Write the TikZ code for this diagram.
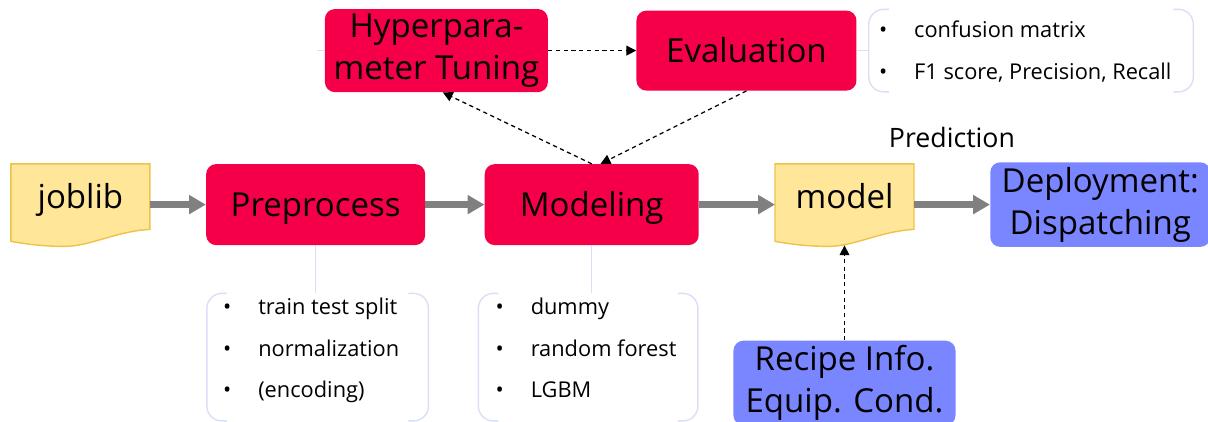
\documentclass[tikz,border=0pt]{standalone}
\usepackage{fontspec}
\setmainfont{Open Sans}
\usepackage{tikz}
\usetikzlibrary{arrows.meta,shapes,positioning,backgrounds}
\usepackage{xcolor}
\definecolor{mlred}{RGB}{245,0,72}
\definecolor{mlyellow}{RGB}{255,230,153}
\definecolor{mlgold}{RGB}{235,196,72}
\definecolor{mlblue}{RGB}{122,134,255}
\definecolor{mllavender}{RGB}{218,223,247}
\definecolor{mlgray}{RGB}{128,128,128}
\tikzstyle{flow} = [line width=4.5pt,-{Triangle[length=12pt,width=13pt]},color=mlgray]
\tikzstyle{dasharrow} = [line width=0.9pt,dash pattern=on 3pt off 2.5pt,-{Triangle[length=7pt,width=7pt]}]
\tikzstyle{linkline} = [line width=1pt,color=mllavender]
\tikzstyle{bracket} = [line width=1pt,color=mllavender,rounded corners=0.375cm]
\tikzstyle{bigtext} = [font=\fontsize{23.5}{30}\selectfont]
\tikzstyle{stage} = [rectangle, rounded corners=0.25cm, fill=mlred, minimum height=2.025cm, text centered, bigtext]
\tikzstyle{oneline} = [text height=16.8pt, text depth=0pt]
\tikzstyle{inputbox} = [stage, fill=mlblue]
\tikzstyle{docnode} = [rectangle, minimum width=3.46cm, minimum height=2.025cm, bigtext, text height=17.9pt, text depth=12.9pt]
\tikzstyle{docfill} = [fill=mlyellow, draw=mlgold, line width=1pt]
\tikzstyle{listbox} = [rectangle, minimum height=3.175cm]
\tikzstyle{items} = [inner sep=0pt, align=left, font=\fontsize{15.5}{29.5}\selectfont]

\newcommand{\bul}{\makebox[25pt][l]{\textbullet}}
% wavy "document" shape behind a node
\newcommand{\docshape}[1]{%
  \begin{pgfonlayer}{background}
  \path[docfill] (#1.north west) -- (#1.north east) -- ([yshift=0.4cm]#1.south east)
    .. controls ([shift={(0.875,0.35)}]#1.south) and ([shift={(0.25,-0.025)}]#1.south) .. ([shift={(-0.4,-0.025)}]#1.south)
    .. controls ([shift={(-1.0,-0.025)}]#1.south) and ([shift={(-1.45,0.05)}]#1.south) .. ([yshift=0.1cm]#1.south west) -- cycle;
  \end{pgfonlayer}}
% open brackets round a list
\newcommand{\bracketbox}[1]{%
  \draw[bracket] ([xshift=0.5cm]#1.north west) -- (#1.north west) -- (#1.south west) -- ([xshift=0.5cm]#1.south west);
  \draw[bracket] ([xshift=-0.5cm]#1.north east) -- (#1.north east) -- (#1.south east) -- ([xshift=-0.5cm]#1.south east);}

\begin{document}
\begin{tikzpicture}
\useasboundingbox (0,0) rectangle (30.2,10.525);
% main flow
\node (joblib) [docnode] at (2.01,5.41) {joblib};
\node (preprocess) [stage, oneline, minimum width=5.475cm, right=1.4cm of joblib] {Preprocess};
\node (modeling) [stage, oneline, minimum width=5.35cm, right=1.475cm of preprocess] {Modeling};
\node (model) [docnode, right=1.9cm of modeling] {model};
\node (deploy) [inputbox, minimum width=5.5cm, minimum height=2.1cm, align=center, right=1.9cm of model] {Deployment:\\Dispatching};
\docshape{joblib}
\docshape{model}

% tuning loop
\node (hyper) [stage, minimum width=5.575cm, align=center] at (10.91,9.26) {Hyperpara-\\meter Tuning};
\node (eval) [stage, oneline, minimum width=5.5cm, minimum height=2cm, right=2.2cm of hyper] {Evaluation};
\coordinate (hyperstub) at ([xshift=-0.2cm]hyper.west);

% side input
\node (recipe) [inputbox, minimum width=5.55cm, align=center, below=2.375cm of model] {Recipe Info.\\Equip. Cond.};

% lists
\node (ppbox) [listbox, minimum width=5.525cm, below=1.2cm of preprocess, xshift=0.05cm] {};
\node (mdbox) [listbox, minimum width=5.475cm, below=1.2cm of modeling, xshift=-0.09cm] {};
\node (evbox) [listbox, minimum width=8.1cm, minimum height=2.05cm, right=0.3cm of eval] {};
\bracketbox{ppbox}
\bracketbox{mdbox}
\bracketbox{evbox}
\node (ppitems) [items, anchor=north west] at ([xshift=0.4cm,yshift=-0.11cm]ppbox.north west) {\bul train test split\\\bul normalization\\\bul (encoding)};
\node (mditems) [items, anchor=north west] at ([xshift=0.425cm,yshift=-0.11cm]mdbox.north west) {\bul dummy\\\bul random forest\\\bul LGBM};
\node (evitems) [items, anchor=north west] at ([xshift=0.25cm,yshift=-0.285cm]evbox.north west) {\bul confusion matrix\\\bul F1 score, Precision, Recall};

% connectors
\draw[flow] (joblib) -- (preprocess);
\draw[flow] (preprocess) -- (modeling);
\draw[flow] (modeling) -- (model);
\draw[flow] (model) -- node[above=1.35cm, inner sep=0pt, text=black, font=\fontsize{19}{22}\selectfont] {Prediction} (deploy);

\draw[dasharrow] (hyper) -- (eval);
\draw[dasharrow] (modeling.north) -- ([xshift=0.16cm]hyper.south);
\draw[dasharrow] (eval.south) -- ([xshift=0.22cm]modeling.north);
\draw[dasharrow] (recipe) -- (model.south);

\draw[linkline] (preprocess.south) -- (preprocess.south |- ppbox.north);
\draw[linkline] (modeling.south) -- (modeling.south |- mdbox.north);
\draw[linkline] (eval) -- (evbox);
\draw[linkline] (hyper.west) -- (hyperstub);
\end{tikzpicture}
\end{document}
